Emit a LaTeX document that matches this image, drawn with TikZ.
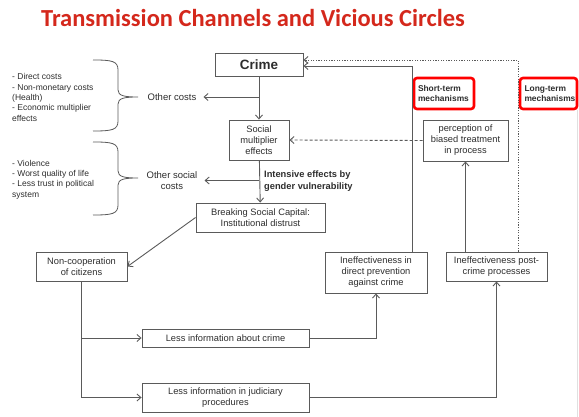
\documentclass[tikz,border=0pt]{standalone}
\usepackage{fontspec}
\setmainfont{Liberation Sans}
\newfontfamily\titlefont{Carlito}
\usepackage{tikz}
\usetikzlibrary{arrows.meta,calc}
\definecolor{titlered}{RGB}{212,40,28}
\definecolor{boxgray}{RGB}{90,90,90}
\definecolor{txtgray}{RGB}{45,45,45}
\tikzset{
  box/.style={draw=boxgray,line width=0.9pt,align=center,text=txtgray,
    font=\fontsize{9.3}{11}\selectfont,inner sep=0pt},
  mech/.style={draw=red,line width=2.6pt,rounded corners=3pt,align=left,
    text=txtgray,font=\bfseries\fontsize{8.4}{10}\selectfont,inner ysep=0pt,
    minimum height=31pt},
  lbl/.style={align=center,text=txtgray,font=\fontsize{9.5}{11}\selectfont,inner xsep=7pt},
  arr/.style={draw=boxgray,line width=0.9pt,-{Straight Barb[length=4pt,width=7pt]}}
}
% hand drawn right brace: x, top y, tip y, bottom y
\newcommand{\costbrace}[4]{
  \draw[boxgray,line width=0.8pt] (#1,#2) .. controls (#1+19,#2) and (#1+25,#2+1) .. (#1+25,#2+10)
    -- (#1+25,#3-7) .. controls (#1+25,#3-1) and (#1+32,#3) .. (#1+45,#3)
    .. controls (#1+32,#3) and (#1+25,#3+1) .. (#1+25,#3+7)
    -- (#1+25,#4-10) .. controls (#1+25,#4-1) and (#1+19,#4) .. (#1,#4);
}

\begin{document}
\begin{tikzpicture}[x=1pt,y=-1pt]
  \useasboundingbox (0,0) rectangle (579,417);

  \node[text=titlered,font=\titlefont\bfseries\fontsize{24.5}{28}\selectfont] (title) at (253,17.5)
    {Transmission Channels and Vicious Circles};

  % main chain
  \node[box,minimum width=88pt,minimum height=23pt,font=\bfseries\fontsize{13.5}{15}\selectfont]
    (crime) at (259,64.5) {Crime};
  \node[box,minimum width=60pt,minimum height=40pt] (social) at (259,140) {Social\\multiplier\\effects};
  \node[box,minimum width=129pt,minimum height=29pt] (brk) at (260.5,217.5)
    {Breaking Social Capital:\\Institutional distrust};
  \node[box,minimum width=91pt,minimum height=29pt] (noncoop) at (81.5,266.5) {Non-cooperation\\of citizens};
  \node[box,minimum width=167pt,minimum height=18pt] (lesscrime) at (225.5,338) {Less information about crime};
  \node[box,minimum width=167pt,minimum height=29pt] (lessjud) at (225.5,397.5)
    {Less information in judiciary\\procedures};
  \node[box,minimum width=102pt,minimum height=41pt] (ineffd) at (376,272.5)
    {Ineffectiveness in\\direct prevention\\against crime};
  \node[box,minimum width=101pt,minimum height=29pt] (ineffp) at (496.5,266.5)
    {Ineffectiveness post-\\crime processes};
  \node[box,minimum width=85pt,minimum height=41pt] (perc) at (465.5,140.5)
    {perception of\\biased treatment\\in process};

  % mechanisms labels
  \node[mech,text width=52pt,inner xsep=4pt] (short) at (444,93.5) {Short-term\\mechanisms};
  \node[mech,text width=48pt,inner xsep=4.5pt] (long) at (548.5,93.5) {Long-term\\mechanisms};

  % costs on the left
  \node[lbl] (othc) at (172,97) {Other costs};
  \node[lbl] (othsc) at (172,180.5) {Other social\\costs};
  \node[anchor=west,align=left,text=txtgray,font=\fontsize{8.5}{10.3}\selectfont,inner sep=0pt]
    (costlist) at (12,97.5) {- Direct costs\\- Non-monetary costs\\(Health)\\- Economic multiplier\\effects};
  \node[anchor=west,align=left,text=txtgray,font=\fontsize{8.5}{10.3}\selectfont,inner sep=0pt]
    (sociallist) at (12,179.5) {- Violence\\- Worst quality of life\\- Less trust in political\\system};
  \costbrace{93}{60}{97}{131}
  \costbrace{93}{142}{178}{215}

  \node[anchor=west,align=left,text=txtgray,font=\bfseries\fontsize{9.3}{11.5}\selectfont,inner sep=0pt]
    (gender) at (264,181) {Intensive effects by\\gender vulnerability};

  % connectors
  \draw[arr] (crime) -- (social);
  \draw[arr] (crime.south |- othc.east) -- (othc.east);
  \draw[arr] (social) -- (brk);
  \draw[arr] (social.south |- othsc.east) -- (othsc.east);
  \draw[arr] (brk.west) -- (noncoop.east);
  \draw[arr] (noncoop.south) |- (lessjud.west);
  \draw[arr] (noncoop.south |- lesscrime.west) -- (lesscrime.west);
  \draw[arr] (lesscrime.east) -| (ineffd.south);
  \draw[arr] (lessjud.east) -| (ineffp.south);
  \draw[arr] ([xshift=36pt]ineffd.north) |- ([yshift=-1.5pt]crime.east);
  \draw[arr] (ineffp.north -| perc.south) -- (perc.south);
  \draw[arr,dash pattern=on 3pt off 2pt] (perc.west) -- (social.east);
  \draw[arr,dash pattern=on 1.2pt off 1.4pt] ([xshift=21.5pt]ineffp.north) |- ([yshift=4.5pt]crime.east);

  \draw[black!12,line width=0.6pt] (577.5,110) -- (577.5,417);% slide edge
\end{tikzpicture}
\end{document}
